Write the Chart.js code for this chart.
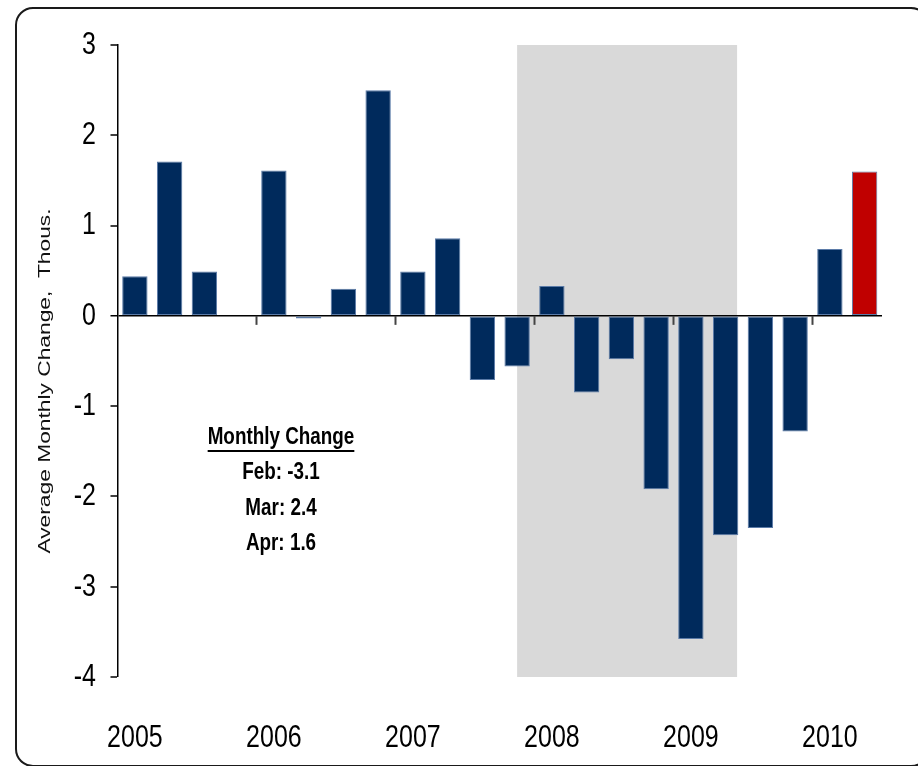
<!DOCTYPE html>
<html>
<head>
<meta charset="utf-8">
<script src="https://cdn.jsdelivr.net/npm/chart.js@4/dist/chart.umd.min.js"></script>
<style>
  html, body { margin: 0; padding: 0; background: #fff; overflow: hidden; }
  #wrap { position: relative; width: 918px; height: 766px; }
  #frame {
    position: absolute; left: 15px; top: 7px; width: 910px; height: 756px;
    border: 2px solid #1a1a1a; border-radius: 18px;
  }
  canvas { position: absolute; left: 0; top: 0; }
</style>
</head>
<body>
<div id="wrap">
  <div id="frame"></div>
  <canvas id="chart" width="918" height="766"></canvas>
</div>
<script>
// quarterly categories, 2005 Q1 .. 2010 Q2
var quarters = [
  '2005 Q1', '2005 Q2', '2005 Q3', '2005 Q4',
  '2006 Q1', '2006 Q2', '2006 Q3', '2006 Q4',
  '2007 Q1', '2007 Q2', '2007 Q3', '2007 Q4',
  '2008 Q1', '2008 Q2', '2008 Q3', '2008 Q4',
  '2009 Q1', '2009 Q2', '2009 Q3', '2009 Q4',
  '2010 Q1', '2010 Q2'
];
// average monthly change, thousands
var changes = [
  0.44, 1.71, 0.49, 0,
  1.61, -0.03, 0.30, 2.50,
  0.49, 0.86, -0.71, -0.56,
  0.33, -0.85, -0.48, -1.92,
  -3.58, -2.43, -2.35, -1.28,
  0.74, 1.60
];
var yTicks = [3, 2, 1, 0, -1, -2, -3, -4];
// recession shading, in category units (Dec 2007 - Jun 2009)
var recessionStart = 11;
var recessionEnd = 17.33;
var noteTitle = 'Monthly Change';
var noteLines = ['Feb: -3.1', 'Mar: 2.4', 'Apr: 1.6'];
var yTitle = 'Average Monthly Change,  Thous.';

var navy = '#002a5c';
var red = '#c00000';
var barColors = changes.map(function (v, i) { return i === changes.length - 1 ? red : navy; });

// the original text is squeezed sideways, so draw it with a horizontal scale
function squeezed(c, text, x, y, sx) {
  c.save();
  c.translate(x, y);
  c.scale(sx, 1);
  c.fillText(text, 0, 0);
  c.restore();
}

var shadePlugin = {
  id: 'shade',
  beforeDraw: function (chart) {
    var x = chart.scales.x, a = chart.chartArea, c = chart.ctx;
    var step = x.getPixelForValue(1) - x.getPixelForValue(0);
    var x0 = x.getPixelForValue(0) - step / 2;
    c.save();
    c.fillStyle = '#d9d9d9';
    c.fillRect(x0 + recessionStart * step + step / 2, a.top,
      (recessionEnd - recessionStart) * step, a.bottom - a.top);
    c.restore();
  }
};

var extrasPlugin = {
  id: 'extras',
  afterDatasetsDraw: function (chart) {
    var x = chart.scales.x, y = chart.scales.y, c = chart.ctx;
    var zero = y.getPixelForValue(0);
    c.save();
    // year tick marks hanging off the zero line
    c.strokeStyle = '#444';
    c.lineWidth = 2;
    for (var i = 4; i < quarters.length; i += 4) {
      var px = (x.getPixelForValue(i - 1) + x.getPixelForValue(i)) / 2;
      c.beginPath();
      c.moveTo(px, zero);
      c.lineTo(px, zero + 9);
      c.stroke();
    }
    c.fillStyle = '#000';
    c.font = '32px "Liberation Sans", Arial, sans-serif';
    // y tick labels
    c.textAlign = 'right';
    c.textBaseline = 'middle';
    yTicks.forEach(function (v) {
      squeezed(c, String(v), 96, y.getPixelForValue(v), 0.78);
    });
    // x tick labels, year on each Q1
    c.textAlign = 'center';
    quarters.forEach(function (q, i) {
      if (q.slice(5) === 'Q1') squeezed(c, q.slice(0, 4), x.getPixelForValue(i), 738, 0.78);
    });
    // note box
    c.font = 'bold 23px "Liberation Sans", Arial, sans-serif';
    squeezed(c, noteTitle, 281, 438, 0.82);
    var w = c.measureText(noteTitle).width * 0.82;
    c.fillRect(281 - w / 2, 450, w, 2);
    noteLines.forEach(function (t, k) {
      squeezed(c, t, 281, 473 + k * 35.5, 0.82);
    });
    // y axis title
    c.translate(50, 381);
    c.rotate(-Math.PI / 2);
    c.scale(1.38, 1);
    c.fillStyle = '#111';
    c.textBaseline = 'alphabetic';
    c.font = '16.5px "Liberation Sans", Arial, sans-serif';
    c.fillText(yTitle, 0, 0);
    c.restore();
  }
};

var ctx = document.getElementById('chart').getContext('2d');
var myChart = new Chart(ctx, {
  type: 'bar',
  data: {
    labels: quarters,
    datasets: [{
      label: 'Average Monthly Change',
      data: changes,
      backgroundColor: barColors,
      borderColor: '#5b7ba8',
      borderWidth: 1,
      borderSkipped: false,
      barPercentage: 0.73,
      categoryPercentage: 1
    }]
  },
  options: {
    responsive: false,
    animation: false,
    layout: { padding: { left: 0, right: 36, top: 45, bottom: 0 } },
    plugins: { legend: { display: false }, tooltip: { enabled: false } },
    scales: {
      x: {
        grid: { display: false, drawTicks: false },
        border: { display: false },
        afterFit: function (s) { s.height = 89; },
        ticks: { display: false, autoSkip: false }
      },
      y: {
        min: -4,
        max: 3,
        afterFit: function (s) { s.width = 117.5; },
        afterBuildTicks: function (s) { s.ticks = yTicks.map(function (v) { return { value: v }; }); },
        border: { display: true, color: '#000', width: 1.5 },
        grid: {
          drawTicks: true,
          tickLength: 7,
          tickColor: '#000',
          tickWidth: 1.5,
          lineWidth: function (c) { return c.tick && c.tick.value === 0 ? 1.5 : 0; },
          color: function (c) { return c.tick && c.tick.value === 0 ? '#000' : 'rgba(0,0,0,0)'; }
        },
        ticks: { display: false }
      }
    }
  },
  plugins: [shadePlugin, extrasPlugin]
});
</script>
</body>
</html>
